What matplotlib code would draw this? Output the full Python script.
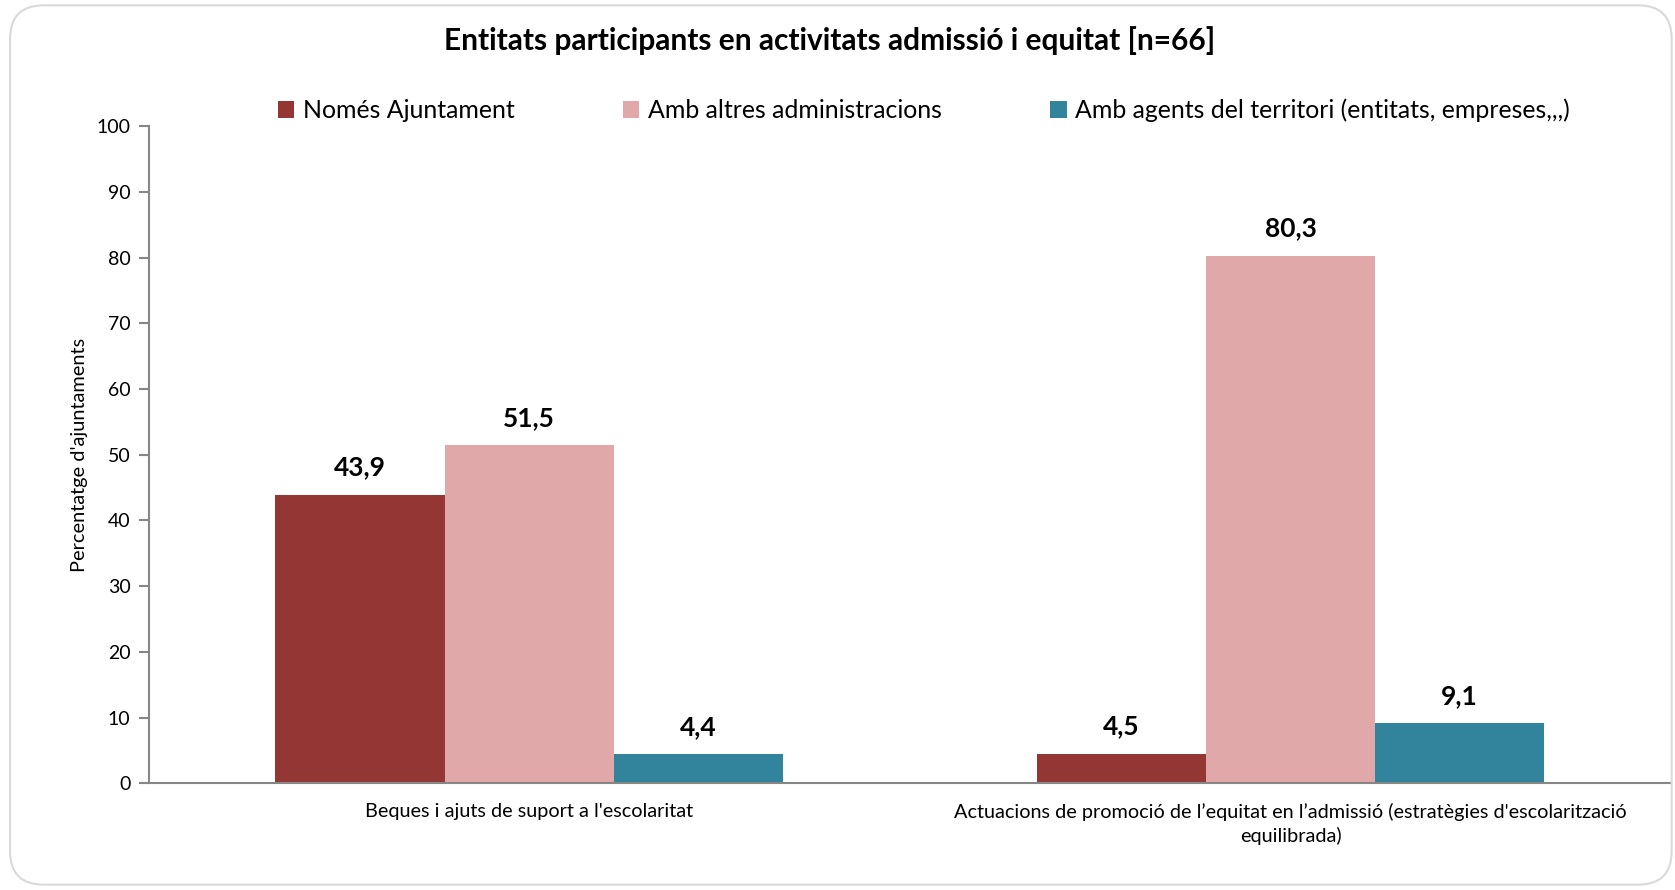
import matplotlib
matplotlib.use("Agg")
import matplotlib.pyplot as plt
import numpy as np
from matplotlib.patches import FancyBboxPatch

plt.rcParams['font.family'] = ['Lato', 'DejaVu Sans']

categories = ["Beques i ajuts de suport a l'escolaritat",
              "Actuacions de promoció de l’equitat en l’admissió (estratègies d'escolarització\nequilibrada)"]
series_names = ["Només Ajuntament", "Amb altres administracions",
                "Amb agents del territori (entitats, empreses,,,)"]
values_nomes = [43.9, 4.5]
values_altres = [51.5, 80.3]
values_agents = [4.4, 9.1]
value_labels_nomes = ["43,9", "4,5"]
value_labels_altres = ["51,5", "80,3"]
value_labels_agents = ["4,4", "9,1"]
yticks = [0, 10, 20, 30, 40, 50, 60, 70, 80, 90, 100]
title = "Entitats participants en activitats admissió i equitat [n=66]"
ylabel = "Percentatge d'ajuntaments"

colors = ["#943634", "#E0A8A8", "#31849B"]

fig = plt.figure(figsize=(16.75, 8.9), dpi=100)
# outer rounded border
border = FancyBboxPatch((0.006, 0.006), 0.992, 0.988,
                        boxstyle="round,pad=0,rounding_size=0.02",
                        transform=fig.transFigure, facecolor="none",
                        edgecolor="#d9d9d9", linewidth=1.5, zorder=0,
                        mutation_aspect=1675/890)
fig.patches.append(border)

ax = fig.add_axes([0.0887, 0.120, 0.909, 0.738])
ax.patch.set_alpha(0)

x = np.arange(len(categories))
w = 0.2222
all_vals = [values_nomes, values_altres, values_agents]
all_labels = [value_labels_nomes, value_labels_altres, value_labels_agents]
for i, (vals, labs, c, name) in enumerate(zip(all_vals, all_labels, colors, series_names)):
    pos = x + (i - 1) * w
    bars = ax.bar(pos, vals, width=w, color=c, label=name, edgecolor="none")
    for b, lab in zip(bars, labs):
        ax.annotate(lab, (b.get_x() + b.get_width() / 2, b.get_height()),
                    xytext=(0, 11), textcoords="offset points",
                    ha="center", va="bottom", fontsize=19, fontweight="bold")

ax.set_xlim(-0.5, len(categories) - 0.5)
ax.set_ylim(0, 100)
ax.set_yticks(yticks)
ax.set_yticklabels([str(t) for t in yticks], fontsize=14)
ax.set_xticks(x)
ax.set_xticklabels(categories, fontsize=14.3, linespacing=1.4)
ax.tick_params(axis="x", length=0, pad=14)
ax.tick_params(axis="y", length=7, width=1.5, color="#868686", pad=6)
for s in ["top", "right"]:
    ax.spines[s].set_visible(False)
for s in ["left", "bottom"]:
    ax.spines[s].set_color("#868686")
    ax.spines[s].set_linewidth(1.5)
ax.set_ylabel(ylabel, fontsize=14.4, labelpad=6)

fig.text(0.4955, 0.954, title, ha="center", va="center", fontsize=21.5, fontweight="bold")
fig.legend(loc="center left", bbox_to_anchor=(0.166, 0.876), ncol=3, frameon=False,
           fontsize=17.9, handlelength=0.66, handleheight=0.66, handletextpad=0.35,
           columnspacing=4.35, borderaxespad=0, borderpad=0)

fig.savefig("out.png", dpi=100)
